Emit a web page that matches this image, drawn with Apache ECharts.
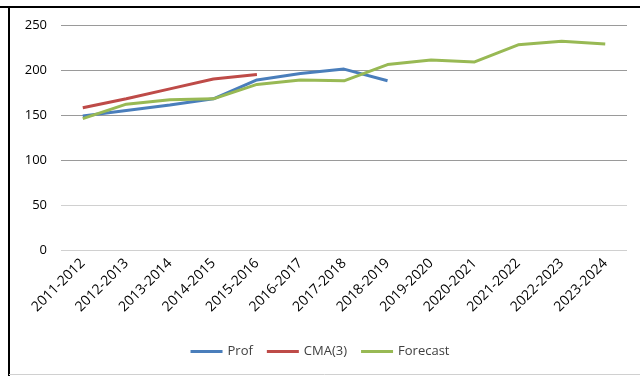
<!DOCTYPE html>
<html><head><meta charset="utf-8">
<script src="https://cdn.jsdelivr.net/npm/echarts@6/dist/echarts.min.js"></script>
<style>html,body{margin:0;padding:0;background:#fff}#c{width:640px;height:376px}</style>
</head><body><div id="c"></div>
<script>
const categories = ['2011-2012','2012-2013','2013-2014','2014-2015','2015-2016','2016-2017','2017-2018','2018-2019','2019-2020','2020-2021','2021-2022','2022-2023','2023-2024'];
const prof = [149, 155, 161, 168, 189, 196, 201, 188, null, null, null, null, null];
const cma3 = [158, 168, 179, 190, 195, null, null, null, null, null, null, null, null];
const forecast = [146, 162, 167, 168, 184, 189, 188, 206, 211, 209, 228, 232, 229];
const yTicks = [0, 50, 100, 150, 200, 250];

const chart = echarts.init(document.getElementById('c'));
const font = '"Open Sans", "Noto Sans", sans-serif';
chart.setOption({
  animation: false,
  graphic: [
    {type:'line', shape:{x1:0,y1:7,x2:640,y2:7}, style:{stroke:'#000',lineWidth:2}},
    {type:'line', shape:{x1:9,y1:6,x2:9,y2:376}, style:{stroke:'#000',lineWidth:2}},
    {type:'line', shape:{x1:9,y1:374.5,x2:640,y2:374.5}, style:{stroke:'#d0d0d0',lineWidth:1}}
  ],
  grid: {left: 61, right: 13, top: 25, bottom: 126},
  legend: {
    bottom: 13, left: 'center', itemWidth: 32, itemHeight: 3, itemGap: 14,
    icon: 'rect',
    textStyle: {fontFamily: font, fontSize: 13, color: '#404040'},
    data: ['Prof','CMA(3)','Forecast']
  },
  xAxis: {
    type: 'category', data: categories, boundaryGap: true,
    axisLine: {show: false}, axisTick: {show: false},
    axisLabel: {rotate: 45, interval: 0, fontFamily: font, fontSize: 14, color: '#000', margin: 11}
  },
  yAxis: {
    type: 'value', min: yTicks[0], max: yTicks[yTicks.length-1], interval: 50,
    axisLine: {show: false}, axisTick: {show: false},
    axisLabel: {fontFamily: font, fontSize: 13, color: '#000', margin: 14},
    splitLine: {lineStyle: {color: ['#d0d0d0','#d0d0d0','#9a9a9a','#9a9a9a','#9a9a9a','#9a9a9a'], width: 1}}
  },
  series: [
    {name:'Prof', type:'line', data: prof, symbol:'none', lineStyle:{color:'#4a7ebb', width:3}, itemStyle:{color:'#4a7ebb'}},
    {name:'CMA(3)', type:'line', data: cma3, symbol:'none', lineStyle:{color:'#be4b48', width:3}, itemStyle:{color:'#be4b48'}},
    {name:'Forecast', type:'line', data: forecast, symbol:'none', lineStyle:{color:'#98b954', width:3}, itemStyle:{color:'#98b954'}}
  ]
});
</script></body></html>
